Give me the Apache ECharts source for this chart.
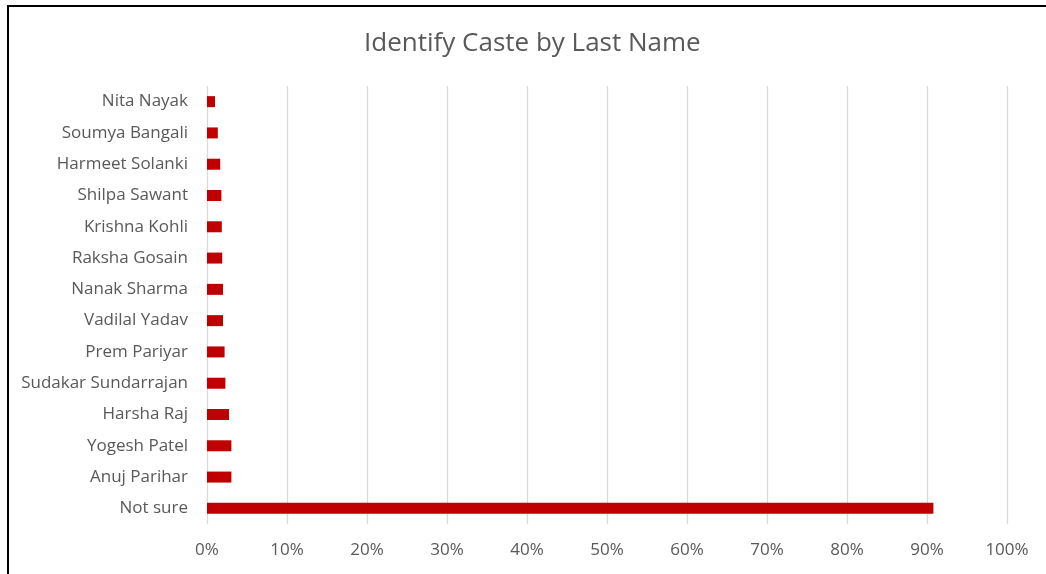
<!DOCTYPE html>
<html>
<head>
<meta charset="utf-8">
<script src="https://cdn.jsdelivr.net/npm/echarts@6/dist/echarts.min.js"></script>
<style>
  html, body { margin: 0; padding: 0; background: #fff; }
  #chart { position: absolute; left: 0; top: 0; width: 1046px; height: 574px; }
  #frame { position: absolute; left: 7px; top: 5px; right: 0; bottom: -3px;
           border-left: 2.5px solid #000; border-top: 2.5px solid #000; pointer-events: none; }
</style>
</head>
<body>
<div id="chart"></div>
<div id="frame"></div>
<script>
// Names shown in the survey, bottom to top as drawn
const categories = [
  'Not sure', 'Anuj Parihar', 'Yogesh Patel', 'Harsha Raj', 'Sudakar Sundarrajan',
  'Prem Pariyar', 'Vadilal Yadav', 'Nanak Sharma', 'Raksha Gosain', 'Krishna Kohli',
  'Shilpa Sawant', 'Harmeet Solanki', 'Soumya Bangali', 'Nita Nayak'
];
// Share of respondents (percent)
const shares = [90.8, 3.05, 3.05, 2.75, 2.3, 2.2, 2.0, 2.0, 1.9, 1.85, 1.8, 1.65, 1.35, 1.0];
const xTicks = [0, 10, 20, 30, 40, 50, 60, 70, 80, 90, 100];

const font = '"Open Sans", "Noto Sans", sans-serif';
const chart = echarts.init(document.getElementById('chart'), null, { renderer: 'canvas' });
chart.setOption({
  animation: false,
  title: {
    text: 'Identify Caste by Last Name',
    left: 359,
    top: 26,
    textStyle: { fontFamily: font, fontSize: 26, fontWeight: 'normal', color: '#595959' }
  },
  grid: { left: 207, right: 39, top: 86, bottom: 50, containLabel: false },
  xAxis: {
    type: 'value',
    min: xTicks[0],
    max: xTicks[xTicks.length - 1],
    interval: 10,
    axisLine: { show: false },
    axisTick: { show: false },
    splitLine: { show: true, lineStyle: { color: '#D9D9D9', width: 1.3 } },
    axisLabel: {
      formatter: v => v + '%',
      margin: 18,
      fontFamily: font, fontSize: 17, color: '#595959'
    }
  },
  yAxis: {
    type: 'category',
    data: categories,
    axisLine: { show: false },
    axisTick: { show: false },
    axisLabel: { margin: 19, fontFamily: font, fontSize: 17, color: '#595959' }
  },
  series: [{
    type: 'bar',
    data: shares,
    barWidth: 11,
    itemStyle: { color: '#C00000' }
  }]
});
</script>
</body>
</html>
